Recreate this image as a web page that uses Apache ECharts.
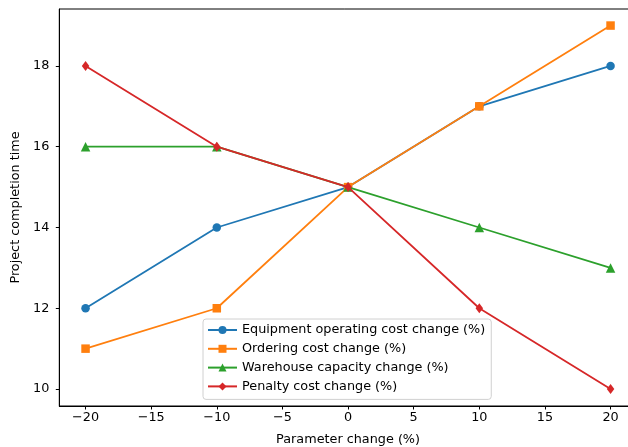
<!DOCTYPE html>
<html><head><meta charset="utf-8">
<script src="https://cdn.jsdelivr.net/npm/echarts@6/dist/echarts.min.js"></script>
<style>html,body{margin:0;padding:0;background:#fff}#c{width:628px;height:447px}</style>
</head><body><div id="c"></div>
<script>
const xValues = [-20, -10, 0, 10, 20];
const equipment = [12, 14, 15, 17, 18];
const ordering = [11, 12, 15, 17, 19];
const warehouse = [16, 16, 15, 14, 13];
const penalty = [18, 16, 15, 12, 10];
const xTicks = [-20, -15, -10, -5, 0, 5, 10, 15, 20];
const yTicks = [10, 12, 14, 16, 18];
const names = ['Equipment operating cost change (%)', 'Ordering cost change (%)', 'Warehouse capacity change (%)', 'Penalty cost change (%)'];
const colors = ['#1f77b4', '#ff7f0e', '#2ca02c', '#d62728'];
const symbols = ['circle', 'rect', 'triangle', 'diamond'];
const symSizes = [8.5, 8.5, 9.5, [7.5, 10]];
const allData = [equipment, ordering, warehouse, penalty];
const font = 'DejaVu Sans';
const fs = 12.8;
const chart = echarts.init(document.getElementById('c'));
chart.setOption({
  animation: false,
  textStyle: {fontFamily: font},
  grid: {left: 59.3, top: 9, width: 577.5, height: 397, containLabel: false, outerBoundsMode: 'none',
    show: true, borderColor: '#000', borderWidth: 1, backgroundColor: 'transparent'},
  xAxis: {type: 'value', min: -22, max: 22,
    name: 'Parameter change (%)', nameLocation: 'middle', nameGap: 27,
    nameTextStyle: {fontFamily: font, fontSize: fs, color: '#000'},
    axisLine: {show: true, onZero: false, lineStyle: {color: '#000'}},
    axisTick: {show: true, length: 3.5, lineStyle: {color: '#000'}, customValues: xTicks},
    axisLabel: {fontFamily: font, fontSize: fs, color: '#000', margin: 5.5, customValues: xTicks,
      formatter: v => String(v).replace('-', '\u2212')},
    splitLine: {show: false}},
  yAxis: {type: 'value', min: 9.58, max: 19.41,
    name: 'Project completion time', nameLocation: 'middle', nameGap: 33.5,
    nameTextStyle: {fontFamily: font, fontSize: fs, color: '#000'},
    axisLine: {show: true, onZero: false, lineStyle: {color: '#000'}},
    axisTick: {show: true, length: 3.5, lineStyle: {color: '#000'}, customValues: yTicks},
    axisLabel: {fontFamily: font, fontSize: fs, color: '#000', margin: 10, customValues: yTicks},
    splitLine: {show: false}},
  legend: {orient: 'vertical', left: 203, top: 319, padding: [4, 6, 6, 4],
    backgroundColor: '#fff', borderColor: '#d0d0d0', borderWidth: 1, borderRadius: 3,
    itemWidth: 29, itemHeight: 10, itemGap: 4.8,
    textStyle: {fontFamily: font, fontSize: fs, color: '#000', lineHeight: 14},
    data: names},
  series: allData.map((d, i) => ({
    name: names[i], type: 'line',
    data: xValues.map((x, j) => [x, d[j]]),
    symbol: symbols[i], symbolSize: symSizes[i], showSymbol: true,
    lineStyle: {color: colors[i], width: 1.8},
    itemStyle: {color: colors[i], borderWidth: 0},
    z: 2 + i
  }))
});
</script></body></html>
